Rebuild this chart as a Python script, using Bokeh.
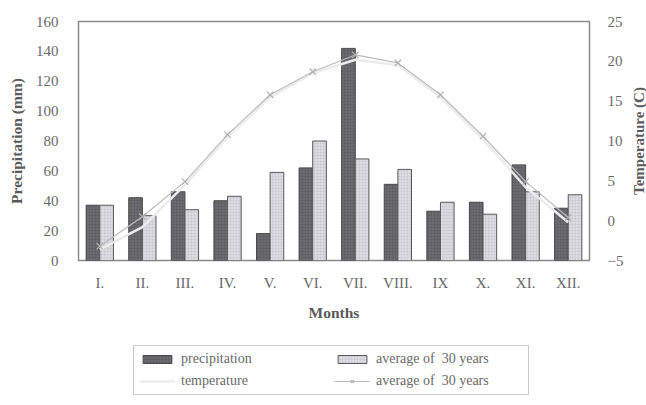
import math
from bokeh.plotting import figure
from bokeh.layouts import column, row
from bokeh.models import (FactorRange, Range1d, LinearAxis, ColumnDataSource, Legend,
                          LegendItem, FixedTicker)
from bokeh.core.properties import value
from bokeh.transform import dodge
from bokeh.embed import file_html
from bokeh.resources import INLINE

months = ["I.", "II.", "III.", "IV.", "V.", "VI.", "VII.", "VIII.", "IX", "X.", "XI.", "XII."]
precipitation = [37, 42, 46, 40, 18, 62, 142, 51, 33, 39, 64, 35]
precip_avg30 = [37, 30, 34, 43, 59, 80, 68, 61, 39, 31, 46, 44]
temperature = [-3.6, -0.8, 4.5, 10.5, 15.5, 18.5, 20.2, 19.5, 15.5, 10.2, 4.2, -0.2]
temp_avg30 = [-3.2, 0.5, 4.9, 10.8, 15.8, 18.7, 20.8, 19.8, 15.8, 10.6, 4.9, 0.4]
legend_labels = ["precipitation", "average of  30 years", "temperature", "average of  30 years"]
right_title = "Temperature (C)"

src = ColumnDataSource(dict(m=months, p=precipitation, pa=precip_avg30,
                            t=temperature, ta=temp_avg30))

FONT = "Liberation Serif"
TXT = "#6a6a6a"

DARK = dict(fill_color="#6c6c70", line_color="#4a4a4a", line_width=1,
            hatch_pattern="cross", hatch_scale=3, hatch_color="#5a5a5e", hatch_alpha=0.5)
LIGHT = dict(fill_color="#dcdce2", line_color="#5a5a5a", line_width=1,
             hatch_pattern="cross", hatch_scale=3, hatch_color="#c4c4cc", hatch_alpha=0.5)
TLINE = dict(line_color="#ececec", line_width=2.5)
ALINE = dict(line_color="#bcbcbc", line_width=1.2)
AMARK = dict(marker="x", size=9, line_color="#b0b0b0", line_width=1.2)

p = figure(x_range=FactorRange(factors=months), y_range=Range1d(0, 160),
           frame_width=511, frame_height=239, output_backend="svg", toolbar_location=None,
           min_border_left=78, min_border_right=30, min_border_top=21, min_border_bottom=0)
p.extra_y_ranges = {"temp": Range1d(-5, 25)}

p.grid.visible = False
p.outline_line_color = "#8a8a8a"
p.outline_line_width = 1.5

p.vbar(x=dodge("m", -0.16, range=p.x_range), top="p", width=0.32, source=src, **DARK)
p.vbar(x=dodge("m", 0.16, range=p.x_range), top="pa", width=0.32, source=src, **LIGHT)
p.line(x="m", y="t", source=src, y_range_name="temp", **TLINE)
p.line(x="m", y="ta", source=src, y_range_name="temp", **ALINE)
p.scatter(x="m", y="ta", source=src, y_range_name="temp", **AMARK)

ya = p.yaxis[0]
ya.ticker = FixedTicker(ticks=list(range(0, 161, 20)))
ya.axis_label = "Precipitation (mm)"
ra = LinearAxis(y_range_name="temp", ticker=FixedTicker(ticks=list(range(-5, 26, 5))))
p.add_layout(ra, "right")

for ax in [ya, ra, p.xaxis[0]]:
    ax.axis_line_color = None
    ax.major_tick_line_color = None
    ax.minor_tick_line_color = None
    ax.major_label_text_font = FONT
    ax.major_label_text_font_size = "15px"
    ax.major_label_text_color = TXT
    ax.axis_label_text_font = FONT
    ax.axis_label_text_font_size = "15.5px"
    ax.axis_label_text_font_style = "bold"
    ax.axis_label_text_color = "#5a5a5a"

ya.major_label_standoff = 14
ya.axis_label_standoff = 8
ra.major_label_standoff = 12
p.xaxis[0].axis_label = "Months"
p.xaxis[0].major_label_standoff = 8
p.xaxis[0].axis_label_standoff = 10

# right axis title, reading bottom to top, in a narrow side figure aligned with the frame
side = figure(width=24, frame_height=239, min_border_left=0, min_border_right=0,
              min_border_top=21, min_border_bottom=0, output_backend="svg",
              toolbar_location=None, x_axis_location=None, y_axis_location=None,
              x_range=Range1d(-5, 25), y_range=Range1d(-5, 25))
side.grid.visible = False
side.outline_line_color = None
side.text(x=[10], y=[10], text=[right_title], angle=math.pi / 2,
          text_align="center", text_baseline="middle",
          text_font=value(FONT), text_font_size="15px", text_font_style="bold",
          text_color="#5a5a5a")

# legend panel (renderers reuse the data, drawn outside the visible range)
lg = figure(frame_width=511, height=80, min_border_left=78, min_border_right=0,
            min_border_top=0, min_border_bottom=0, output_backend="svg", toolbar_location=None,
            x_axis_location=None, y_axis_location=None,
            x_range=FactorRange(factors=months), y_range=Range1d(300, 400))
lg.grid.visible = False
lg.outline_line_color = None
r1 = lg.vbar(x="m", top="p", width=0.3, source=src, **DARK)
r2 = lg.vbar(x="m", top="pa", width=0.3, source=src, **LIGHT)
r3 = lg.line(x="m", y="t", source=src, **TLINE)
r4 = lg.line(x="m", y="ta", source=src, **ALINE)
r5 = lg.scatter(x="m", y="ta", source=src, **AMARK)

legend = Legend(items=[
    LegendItem(label=legend_labels[0], renderers=[r1]),
    LegendItem(label=legend_labels[1], renderers=[r2]),
    LegendItem(label=legend_labels[2], renderers=[r3]),
    LegendItem(label=legend_labels[3], renderers=[r4, r5]),
], ncols=2, location=(55, 8), orientation="horizontal")
legend.label_text_font = FONT
legend.label_text_font_size = "14px"
legend.label_text_color = TXT
legend.border_line_color = "#9a9a9a"
legend.border_line_width = 1.5
legend.label_width = 147
legend.glyph_width = 36
legend.glyph_height = 10
legend.spacing = 6
legend.padding = 5
legend.margin = 0
legend.label_standoff = 6
lg.add_layout(legend, "center")

layout = column(row(p, side, spacing=0), lg, spacing=0)
open("out.html", "w").write(file_html(layout, INLINE))
